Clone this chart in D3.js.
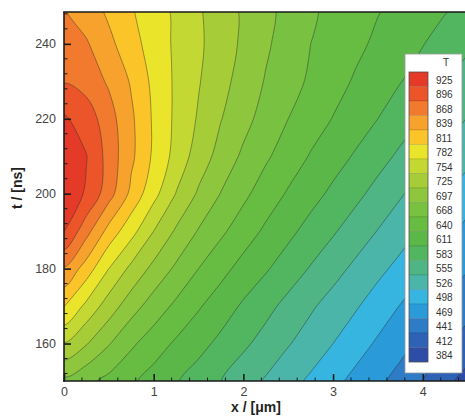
<!DOCTYPE html>
<html><head><meta charset="utf-8">
<script src="https://cdn.jsdelivr.net/npm/d3@7"></script>
<style>body{margin:0;background:#fff}svg{display:block}</style>
</head><body><svg id="chart" width="465" height="416"></svg>
<script>
// ---- data ----
const xValues = [0,0.25,0.5,0.75,1,1.25,1.5,1.75,2,2.25,2.5,2.75,3,3.25,3.5,3.75,4,4.25,4.5];
const tValues = [150,160,170,180,190,200,210,220,230,240,250];
const T150 = [690,675,660,644,629,613,598,583,567,552,536,521,506,490,475,459,441,420,400];
const T160 = [752,727,699,673,653,636,620,604,588,573,557,542,526,510,494,478,462,445,428];
const T170 = [812,775,740,709,684,662,643,625,607,591,575,559,544,529,513,497,481,466,451];
const T180 = [865,826,782,747,717,692,668,649,630,614,597,581,565,549,533,518,502,486,471];
const T190 = [926,878,829,792,754,721,695,673,654,635,618,601,586,570,554,538,522,506,490];
const T200 = [942,922,880,832,791,753,721,696,674,655,637,621,605,590,574,558,542,526,510];
const T210 = [944,926,885,845,806,772,741,714,692,672,655,638,623,608,593,578,564,549,535];
const T220 = [929,911,880,844,807,776,751,726,706,686,668,653,639,625,611,596,582,568,554];
const T230 = [894,885,864,836,804,777,756,734,714,695,678,664,650,637,624,612,600,585,571];
const T240 = [879,871,846,822,798,777,759,739,720,701,685,668,657,646,635,623,612,600,588];
const T250 = [868,851,832,813,794,776,757,738,720,704,688,672,661,652,642,633,623,614,604];
const levels = [384,412,441,469,498,526,555,583,611,640,668,697,725,754,782,811,839,868,896,925];
const levelColors = ["#2d4da6","#2e62b5","#2e7cc6","#2b9ad8","#36b5e0","#4ab5a8","#4fb585","#52b560",
  "#5bb848","#67bc42","#79c140","#8ec63d","#a6cd38","#c4d833","#eae52b","#fbc52a","#f7a22d","#f27a2e","#ec5429","#e43a27"];
const xTicks = [0,1,2,3,4];
const tTicks = [160,180,200,220,240];

// ---- drawing ----
const rows = [T150,T160,T170,T180,T190,T200,T210,T220,T230,T240,T250];
const nx = xValues.length, ny = tValues.length;
const flat = [].concat(...rows);
const dxStep = xValues[1]-xValues[0], dtStep = tValues[1]-tValues[0];

const svg = d3.select("#chart");
const L = 64, R = 467.6, TOP = 12, B = 381;
const x = d3.scaleLinear().domain([0,4.5]).range([L,R]);
const y = d3.scaleLinear().domain([150,248.5]).range([B,TOP]);
const color = d3.scaleOrdinal().domain(levels).range(levelColors);

svg.append("defs").append("clipPath").attr("id","plotclip")
  .append("rect").attr("x",L).attr("y",TOP).attr("width",R-L).attr("height",B-TOP);

const plot = svg.append("g").attr("clip-path","url(#plotclip)");
plot.append("rect").attr("x",L).attr("y",TOP).attr("width",R-L).attr("height",B-TOP)
  .attr("fill","#2b479f");

const contours = d3.contours().size([nx,ny]).thresholds(levels)(flat);
const lineGen = d3.line().curve(d3.curveCatmullRomClosed.alpha(0.5));
function toPath(geom){
  let d = "";
  geom.coordinates.forEach(poly => poly.forEach(ring => {
    const pts = ring.slice(0, ring.length-1).map(([gx,gy]) => [
      x(xValues[0] + (gx-0.5)*dxStep),
      y(tValues[0] + (gy-0.5)*dtStep)
    ]);
    if (pts.length > 2) d += lineGen(pts);
  }));
  return d;
}
const paths = contours.map(c => ({value:c.value, d:toPath(c)}));
plot.selectAll("path.band").data(paths).join("path")
  .attr("class","band").attr("d",p=>p.d)
  .attr("fill",p=>color(p.value)).attr("fill-rule","evenodd");
plot.selectAll("path.line").data(paths.slice(1)).join("path")
  .attr("class","line").attr("d",p=>p.d)
  .attr("fill","none").attr("stroke","#2a2a2a").attr("stroke-opacity",0.6).attr("stroke-width",0.75);

// frame
const frame = svg.append("g").attr("stroke","#1a1a1a").attr("stroke-width",1.6).attr("fill","none");
frame.append("line").attr("x1",L).attr("x2",L).attr("y1",TOP).attr("y2",B+0.8);
frame.append("line").attr("x1",L-0.8).attr("x2",R).attr("y1",B).attr("y2",B);
frame.append("line").attr("x1",L-0.8).attr("x2",R).attr("y1",TOP).attr("y2",TOP);

// axes with inward ticks
const axB = d3.axisBottom(x).tickValues(xTicks).tickFormat(d3.format("d")).tickSizeInner(-7).tickSizeOuter(0).tickPadding(6);
const gB = svg.append("g").attr("transform",`translate(0,${B})`).call(axB);
const axL = d3.axisLeft(y).tickValues(tTicks).tickFormat(d3.format("d")).tickSizeInner(-7).tickSizeOuter(0).tickPadding(8);
const gL = svg.append("g").attr("transform",`translate(${L},0)`).call(axL);
[gB,gL].forEach(g=>{
  g.select(".domain").remove();
  g.selectAll(".tick line").attr("stroke","#1a1a1a").attr("stroke-width",1.6);
  g.selectAll(".tick text").attr("font-family","Liberation Sans, Arial, sans-serif").attr("font-size",12.5).attr("fill","#444");
});
const minorX = d3.range(0.2,4.5,0.2).filter(v=>Math.abs(v-Math.round(v))>1e-6);
const minorT = d3.range(152,249,4).filter(v=>v%20!==0);
svg.append("g").selectAll("line").data(minorX).join("line")
  .attr("x1",d=>x(d)).attr("x2",d=>x(d)).attr("y1",B).attr("y2",B-3.5)
  .attr("stroke","#1a1a1a").attr("stroke-width",1);
svg.append("g").selectAll("line").data(minorT).join("line")
  .attr("x1",L).attr("x2",L+3.5).attr("y1",d=>y(d)).attr("y2",d=>y(d))
  .attr("stroke","#1a1a1a").attr("stroke-width",1);

// axis titles
svg.append("text").attr("x",256).attr("y",412).attr("text-anchor","middle")
  .attr("font-family","Liberation Sans, Arial, sans-serif").attr("font-weight","bold").attr("font-size",14).attr("fill","#222")
  .text("x / [μm]");
svg.append("text").attr("transform","translate(22,188) rotate(-90)").attr("text-anchor","middle")
  .attr("font-family","Liberation Sans, Arial, sans-serif").attr("font-weight","bold").attr("font-size",14).attr("fill","#222")
  .text("t / [ns]");

// legend
const lg = svg.append("g");
lg.append("rect").attr("x",405).attr("y",54).attr("width",57).attr("height",319)
  .attr("fill","#fff").attr("stroke","#999").attr("stroke-width",0.8);
lg.append("text").attr("x",446).attr("y",66).attr("text-anchor","middle")
  .attr("font-family","Liberation Sans, Arial, sans-serif").attr("font-size",10).attr("fill","#333").text("T");
const legendLevels = levels.slice().reverse();
const sy = d3.scaleBand().domain(legendLevels).range([72,362]);
lg.selectAll("rect.sw").data(legendLevels).join("rect").attr("class","sw")
  .attr("x",409).attr("width",19).attr("y",d=>sy(d)).attr("height",sy.bandwidth())
  .attr("fill",d=>color(d)).attr("stroke","rgba(0,0,0,0.18)").attr("stroke-width",0.6);
lg.append("rect").attr("x",409).attr("y",72).attr("width",19).attr("height",290)
  .attr("fill","none").attr("stroke","#555").attr("stroke-width",0.7);
lg.selectAll("text.lb").data(legendLevels).join("text").attr("class","lb")
  .attr("x",436).attr("y",d=>sy(d)+sy.bandwidth()/2+2).attr("dominant-baseline","middle")
  .attr("font-family","Liberation Sans, Arial, sans-serif").attr("font-size",10).attr("fill","#333")
  .text(d=>d);
</script>
</body></html>
